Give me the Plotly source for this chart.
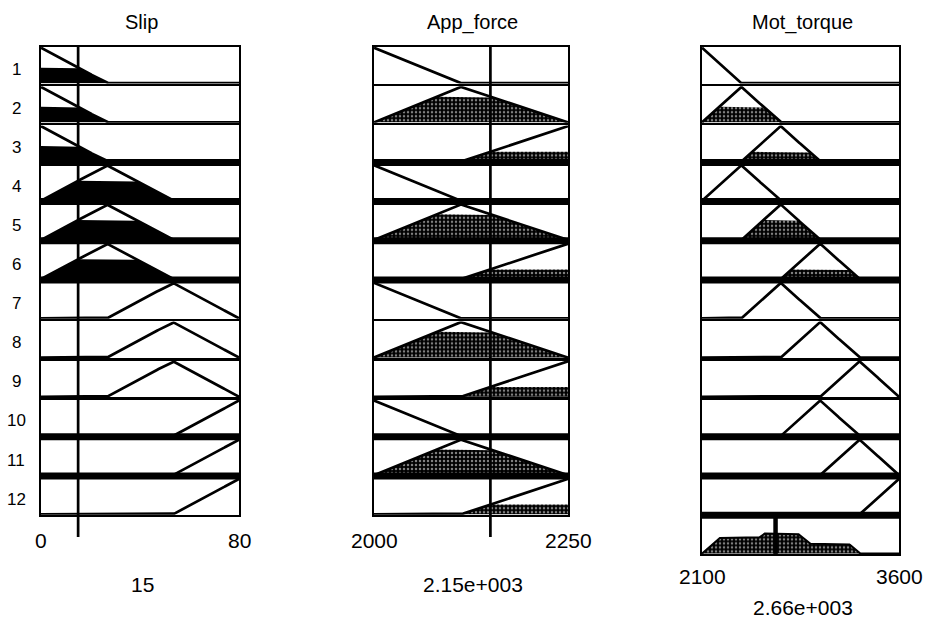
import numpy as np
import plotly.graph_objects as go

# ---------------- data ----------------
titles = ["Slip", "App_force", "Mot_torque"]
slip_range = [0, 80]
slip_mf_params = [[-26.67, 0, 26.67], [0, 26.67, 53.33], [26.67, 53.33, 80], [53.33, 80, 106.67]]
force_range = [2000, 2250]
force_mf_params = [[1888, 2000, 2112], [2000, 2112, 2250], [2112, 2250, 2388]]
torque_range = [2100, 3600]
torque_mf_params = [[1800, 2100, 2400], [2100, 2400, 2700], [2400, 2700, 3000],
                    [2700, 3000, 3300], [3000, 3300, 3600], [3300, 3600, 3900]]
rule_slip = [1, 1, 1, 2, 2, 2, 3, 3, 3, 4, 4, 4]
rule_force = [1, 2, 3, 1, 2, 3, 1, 2, 3, 1, 2, 3]
rule_torque = [1, 2, 3, 2, 3, 4, 3, 4, 5, 4, 5, 6]
rule_labels = ["1", "2", "3", "4", "5", "6", "7", "8", "9", "10", "11", "12"]
slip_input = 15
force_input = 2150
torque_output = 2660
slip_ticks = ["0", "80"]
force_ticks = ["2000", "2250"]
torque_ticks = ["2100", "3600"]
value_labels = ["15", "2.15e+003", "2.66e+003"]

# ---------------- geometry / style ----------------
W, H = 926, 621
col_px = [(41, 239), (374, 568), (702, 899)]
row_top0, row_pitch, row_h = 47, 39.2, 36.5
thick_after = [[3, 4, 5, 6, 10, 11], [3, 4, 5, 6, 10, 11], [3, 4, 5, 6, 10, 11, 12]]
FONT = "Liberation Sans, Arial, sans-serif"
TITLE_SIZE, RULE_SIZE, TICK_SIZE = 20, 17, 21


def pxx(x):
    return x / W


def pyy(y):
    return 1 - y / H


def trimf(x, p):
    a, b, c = p
    left = (x - a) / (b - a)
    right = (c - x) / (c - b)
    return np.clip(np.minimum(left, right), 0, 1)


def mf_val(v, p):
    return float(trimf(np.array([v], dtype=float), p)[0])


fig = go.Figure()
layout = {}
shapes = []
annotations = []


def axis_keys(n):
    return ("xaxis" if n == 1 else f"xaxis{n}", "yaxis" if n == 1 else f"yaxis{n}",
            "x" if n == 1 else f"x{n}", "y" if n == 1 else f"y{n}")


def add_axis(n, col, row, xr):
    xk, yk, xa, ya = axis_keys(n)
    x0, x1 = col_px[col]
    top = row_top0 + row * row_pitch
    bot = top + row_h
    common = dict(showline=True, mirror=True, linecolor="black", linewidth=2,
                  showgrid=False, zeroline=False, showticklabels=False, ticks="", fixedrange=True)
    layout[xk] = dict(domain=[pxx(x0), pxx(x1)], anchor=ya, range=xr, **common)
    layout[yk] = dict(domain=[pyy(bot), pyy(top)], anchor=xa, range=[-0.01, 1.02], **common)
    return xa, ya, top, bot


def text(x, y, s, size, xref="paper"):
    annotations.append(dict(x=x, xref=xref, y=pyy(y), yref="paper", text=s, showarrow=False,
                            font=dict(family=FONT, size=size, color="black"),
                            xanchor="center", yanchor="middle"))


pattern = dict(shape=".", bgcolor="black", fgcolor="white", size=4, solidity=0.3)

cols = [(slip_range, slip_mf_params, rule_slip, slip_input, slip_ticks),
        (force_range, force_mf_params, rule_force, force_input, force_ticks)]

weights = []
for r in range(12):
    w = min(mf_val(slip_input, slip_mf_params[rule_slip[r] - 1]),
            mf_val(force_input, force_mf_params[rule_force[r] - 1]))
    weights.append(w)

n = 0
# input columns
for c, (rng, params, rule, inp, ticks) in enumerate(cols):
    xs = np.linspace(rng[0], rng[1], 801)
    for r in range(12):
        n += 1
        xa, ya, top, bot = add_axis(n, c, r, rng)
        p = params[rule[r] - 1]
        mu = trimf(xs, p)
        deg = mf_val(inp, p)
        if deg > 0:
            clipped = np.minimum(mu, deg)
            kw = dict(fillcolor="black")
            if c == 1:
                kw["fillpattern"] = pattern
            fig.add_trace(go.Scatter(x=xs, y=clipped, xaxis=xa, yaxis=ya, mode="lines",
                                     line=dict(width=0, color="black"), fill="tozeroy",
                                     hoverinfo="skip", showlegend=False, **kw))
        fig.add_trace(go.Scatter(x=xs, y=mu, xaxis=xa, yaxis=ya, mode="lines",
                                 line=dict(color="black", width=2.7),
                                 hoverinfo="skip", showlegend=False))
        if r == 11:
            for t, v in zip(ticks, rng):
                text(v, 540, t, TICK_SIZE, xref=xa)
            text(pxx((col_px[c][0] + col_px[c][1]) / 2 + 2), 584, value_labels[c], TICK_SIZE)
            shapes.append(dict(type="line", xref=xa, yref="paper", x0=inp, x1=inp,
                               y0=pyy(row_top0), y1=pyy(537), line=dict(color="black", width=2.7),
                               layer="above"))

# output column
xs = np.linspace(torque_range[0], torque_range[1], 1501)
agg = np.zeros_like(xs)
for r in range(13):
    n += 1
    xa, ya, top, bot = add_axis(n, 2, r, torque_range)
    if r < 12:
        mu = trimf(xs, torque_mf_params[rule_torque[r] - 1])
        w = weights[r]
        if w > 0:
            clipped = np.minimum(mu, w)
            agg = np.maximum(agg, clipped)
            fig.add_trace(go.Scatter(x=xs, y=clipped, xaxis=xa, yaxis=ya, mode="lines",
                                     line=dict(width=0, color="black"), fill="tozeroy",
                                     fillcolor="black", fillpattern=pattern,
                                     hoverinfo="skip", showlegend=False))
        fig.add_trace(go.Scatter(x=xs, y=mu, xaxis=xa, yaxis=ya, mode="lines",
                                 line=dict(color="black", width=2.7),
                                 hoverinfo="skip", showlegend=False))
    else:
        fig.add_trace(go.Scatter(x=xs, y=agg, xaxis=xa, yaxis=ya, mode="lines",
                                 line=dict(width=2, color="black"), fill="tozeroy",
                                 fillcolor="black", fillpattern=pattern,
                                 hoverinfo="skip", showlegend=False))
        shapes.append(dict(type="line", xref=xa, yref="paper", x0=torque_output, x1=torque_output,
                           y0=pyy(top), y1=pyy(bot), line=dict(color="black", width=4.5), layer="above"))
        for t, v in zip(torque_ticks, torque_range):
            text(v, 576, t, TICK_SIZE, xref=xa)
        text(pxx((col_px[2][0] + col_px[2][1]) / 2 + 2), 607, value_labels[2], TICK_SIZE)

# thick black separators between some rows
for c in range(3):
    x0, x1 = col_px[c]
    for k in thick_after[c]:
        bot = row_top0 + (k - 1) * row_pitch + row_h
        shapes.append(dict(type="rect", xref="paper", yref="paper", x0=pxx(x0 - 1), x1=pxx(x1 + 1),
                           y0=pyy(bot + 4), y1=pyy(bot - 3), fillcolor="black",
                           line=dict(width=0), layer="above"))

# titles and rule numbers
title_x = [141, 473, 802]
for c in range(3):
    text(pxx(title_x[c]), 22, titles[c], TITLE_SIZE)
for r, lab in enumerate(rule_labels):
    text(pxx(16), 69 + r * 39.1, lab, RULE_SIZE)

fig.update_layout(**layout)
fig.update_layout(width=W, height=H, margin=dict(l=0, r=0, t=0, b=0),
                  paper_bgcolor="white", plot_bgcolor="white",
                  shapes=shapes, annotations=annotations, showlegend=False)
fig.write_html("out.html", config={"displayModeBar": False},
               post_script="document.body.style.margin='0';document.body.style.overflow='hidden';")
